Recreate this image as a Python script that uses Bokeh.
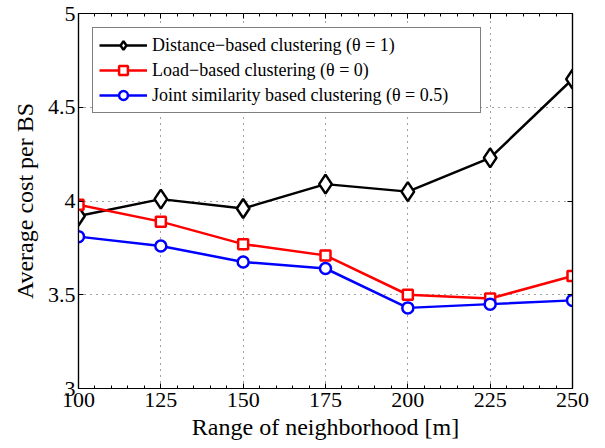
from bokeh.plotting import figure
from bokeh.models import (LinearAxis, FixedTicker, NumeralTickFormatter, Range1d, Legend)
from bokeh.embed import file_html
from bokeh.resources import INLINE

x_range_m = [100, 125, 150, 175, 200, 225, 250]
distance_based = [3.92, 4.01, 3.96, 4.09, 4.05, 4.23, 4.65]
load_based = [3.98, 3.89, 3.77, 3.71, 3.50, 3.48, 3.60]
joint_based = [3.81, 3.76, 3.675, 3.64, 3.43, 3.45, 3.47]

x_ticks = [100, 125, 150, 175, 200, 225, 250]
x_minor = list(range(100, 251, 5))
y_ticks = [3, 3.5, 4, 4.5, 5]

FONT = "Liberation Serif"

p = figure(width=605, height=448, output_backend="svg", toolbar_location=None,
           x_range=Range1d(100, 250), y_range=Range1d(3, 5),
           min_border_left=78, min_border_right=33, min_border_top=13,
           min_border_bottom=60, x_axis_label="Range of neighborhood [m]",
           y_axis_label="Average cost per BS")
p.outline_line_color = "black"
p.outline_line_width = 1.2
p.background_fill_color = "white"
p.border_fill_color = "white"

def style_axis(ax, show_labels=True, minor=True):
    ax.axis_line_color = "black"
    ax.axis_line_width = 1.2
    ax.major_tick_in = 5
    ax.major_tick_out = 0
    ax.minor_tick_in = 3
    ax.minor_tick_out = 0
    ax.major_tick_line_color = "black"
    ax.major_tick_line_width = 1
    ax.minor_tick_line_color = "black" if minor else None
    ax.major_label_text_font = FONT
    if show_labels:
        ax.major_label_text_font_size = "22px"
        ax.major_label_text_color = "black"
    else:
        ax.major_label_text_font_size = "1px"
        ax.major_label_text_color = None
    ax.axis_label_text_font = FONT
    ax.axis_label_text_font_size = "24px"
    ax.axis_label_text_font_style = "normal"
    ax.axis_label_text_color = "black"

xt = FixedTicker(ticks=x_ticks, minor_ticks=x_minor)
yt = FixedTicker(ticks=y_ticks, minor_ticks=[])

p.xaxis.ticker = xt
p.yaxis.ticker = yt
p.yaxis.formatter = NumeralTickFormatter(format="0.[0]")
style_axis(p.xaxis[0])
style_axis(p.yaxis[0], minor=False)
p.xaxis.major_label_standoff = 4
p.xaxis.axis_label_standoff = 4
p.yaxis.major_label_standoff = 3
p.yaxis.axis_label_standoff = 7

top = LinearAxis(ticker=xt)
style_axis(top, show_labels=False)
top.major_label_standoff = 0
p.add_layout(top, "above")
right = LinearAxis(ticker=yt)
style_axis(right, show_labels=False, minor=False)
right.major_label_standoff = 0
p.add_layout(right, "right")

p.xgrid.ticker = xt
p.ygrid.ticker = yt
for g in (p.xgrid[0], p.ygrid[0]):
    g.grid_line_color = "#444444"
    g.grid_line_dash = "1 5"
    g.grid_line_width = 1

series = [
    (distance_based, "black", "diamond", 19, "Distance\u2212based clustering (\u03b8 = 1)"),
    (load_based, "#ff0000", "square", 10, "Load\u2212based clustering (\u03b8 = 0)"),
    (joint_based, "#0000ff", "circle", 11, "Joint similarity based clustering (\u03b8 = 0.5)"),
]
items = []
for ys, col, mk, sz, lab in series:
    r1 = p.line(x_range_m, ys, line_color=col, line_width=2.5)
    r2 = p.scatter(x_range_m, ys, marker=mk, size=sz, line_color=col,
                   line_width=2.5, fill_color="white")
    items.append((lab, [r1, r2]))

leg = Legend(items=items, location="top_left", margin=14)
leg.border_line_color = "black"
leg.border_line_width = 1.2
leg.background_fill_color = "white"
leg.background_fill_alpha = 1
leg.padding = 6
leg.spacing = 3
leg.label_height = 22
leg.glyph_height = 22
leg.glyph_width = 48
leg.label_standoff = 5
leg.label_width = 322
leg.label_text_font = FONT
leg.label_text_font_size = "18px"
leg.label_text_color = "black"
p.add_layout(leg, "center")

open("out.html", "w").write(file_html(p, INLINE))
